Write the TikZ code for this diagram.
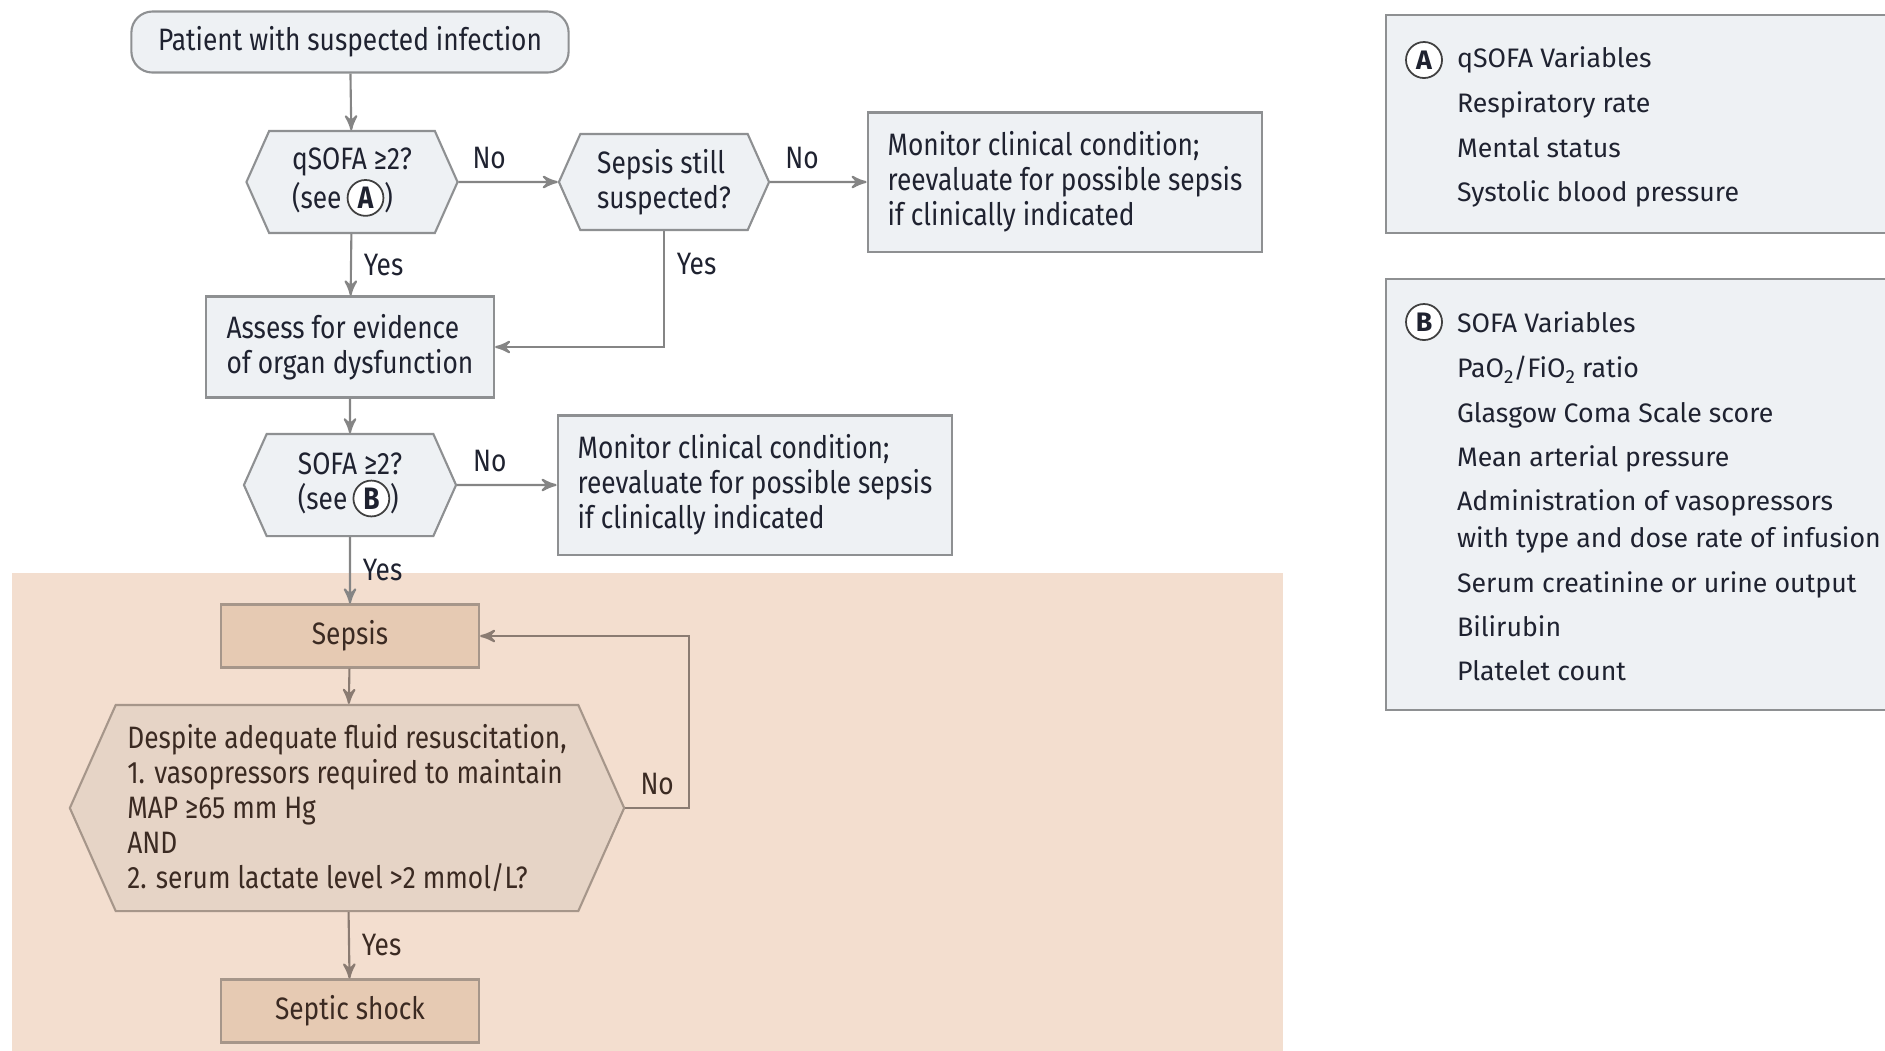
\documentclass[tikz,border=0pt]{standalone}
\usepackage{fontspec}
\setmainfont{Fira Sans}
\newfontfamily\narrowfont[FakeStretch=0.85]{Fira Sans}
\usepackage{tikz}
\usetikzlibrary{arrows,shapes.symbols}

\definecolor{boxfill}{HTML}{EEF1F4}
\definecolor{boxline}{HTML}{8E9092}
\definecolor{arrowgray}{HTML}{858585}
\definecolor{peach}{HTML}{F3DECF}
\definecolor{tanfill}{HTML}{E6CAB3}
\definecolor{hexfill}{HTML}{E6D4C6}
\definecolor{tanline}{HTML}{A6968A}
\definecolor{tanarrow}{HTML}{8A7B72}
\definecolor{inkblue}{HTML}{1F2230}
\definecolor{inkbrown}{HTML}{3B2A22}

\newcommand{\mainsz}{\narrowfont\fontsize{8.8}{9.9}\selectfont}
\newcommand{\panelsz}{\fontsize{7.6}{9.9}\selectfont}
\newcommand{\lowtwo}{\raisebox{-0.45ex}{\fontsize{5.4}{5}\selectfont 2}}
\newcommand{\seemark}[1]{\tikz[baseline=(m.base)]\node[circle,draw=black!75,fill=white,line width=0.5pt,inner sep=0pt,minimum size=10.2pt,font=\bfseries](m){#1};}

\begin{document}
\begin{tikzpicture}[x=0.01cm,y=-0.01cm,>=stealth',line width=0.6pt,
    proc/.style={draw=boxline,fill=boxfill,text=inkblue,font=\mainsz,align=left,inner xsep=0.2cm},
    start/.style={proc,rounded corners=6pt,align=center,minimum width=4.37cm,minimum height=0.61cm},
    decide/.style={signal,signal to=east and west,signal pointer angle=132,draw=boxline,fill=boxfill,
      text=inkblue,font=\mainsz,align=left,inner sep=0pt},
    monitor/.style={proc,inner xsep=0.2cm,minimum width=3.92cm,minimum height=1.39cm},
    outcome/.style={draw=tanline,fill=tanfill,text=inkbrown,font=\mainsz,minimum width=2.58cm,minimum height=0.63cm},
    shockq/.style={decide,draw=tanline,fill=hexfill,text=inkbrown},
    panel/.style={draw=boxline,fill=boxfill,anchor=north west,minimum width=5.3cm},
    circmark/.style={circle,draw=black!75,fill=white,line width=0.5pt,inner sep=0pt,minimum size=0.36cm,font=\bfseries\panelsz,text=inkblue},
    item/.style={anchor=base west,inner sep=0pt,font=\panelsz,text=inkblue},
    lab/.style={font=\mainsz,text=inkblue},
    tanlab/.style={font=\mainsz,text=inkbrown}]
  \useasboundingbox (0,0) rectangle (1885,1050);
  \fill[peach] (12,573) rectangle (1283,1060);

  \node[start]                 (patient) at (350,42)   {Patient with suspected infection};
  \node[decide,minimum width=2.11cm,minimum height=1.02cm] (qsofa) at (352,182) {qSOFA ≥2?\\(see\,\seemark{A})};
  \node[decide,minimum width=2.1cm,minimum height=0.96cm]  (still) at (664,182) {Sepsis still\\suspected?};
  \node[monitor]               (mon1)    at (1065,182) {Monitor clinical condition;\\reevaluate for possible sepsis\\if clinically indicated};
  \node[proc,minimum width=2.88cm,minimum height=1.01cm] (assess) at (350,347) {Assess for evidence\\of organ dysfunction};
  \node[decide,minimum width=2.12cm,minimum height=1.02cm] (sofa) at (350,485) {SOFA ≥2?\\(see\,\seemark{B})};
  \node[monitor]               (mon2)    at (755,485)  {Monitor clinical condition;\\reevaluate for possible sepsis\\if clinically indicated};
  \node[outcome]               (sepsis)  at (350,636)  {Sepsis};
  \node[shockq,minimum width=5.54cm,minimum height=2.06cm] (shock) at (347,808)
    {Despite adequate fluid resuscitation,\\1. vasopressors required to maintain\\MAP ≥65 mm Hg\\AND\\2. serum lactate level >2 mmol/L?};
  \node[outcome]               (septic)  at (350,1011) {Septic shock};
  \coordinate (loopx) at (689,0);

  \path[->,arrowgray]
    (patient) edge (qsofa)
    (qsofa) edge node[lab,above,pos=0.31] {No} (still)
    (still) edge node[lab,above,pos=0.33] {No} (mon1)
    (qsofa) edge node[lab,right] {Yes} (assess)
    (assess) edge (sofa)
    (sofa) edge node[lab,above,pos=0.33] {No} (mon2)
    (sofa) edge node[lab,right] {Yes} (sepsis);
  \draw[->,arrowgray] (still) |- node[lab,right,pos=0.14] {Yes} (assess);
  \path[->,tanarrow]
    (sepsis) edge (shock)
    (shock) edge node[tanlab,right] {Yes} (septic);
  \draw[->,tanarrow] (shock.east) -- node[tanlab,above] {No} (shock.east -| loopx) |- (sepsis);

  % variable panels
  \node[panel,minimum height=2.18cm] (qpanel) at (1385,14) {};
  \node[circmark] (markA) at (1424,60) {A};
  \foreach \yy/\txt in {67/{qSOFA Variables},112/{Respiratory rate},157/{Mental status},201/{Systolic blood pressure}}
    \node[item] at (1456,\yy) {\txt};

  \node[panel,minimum height=4.31cm] (spanel) at (1385,278) {};
  \node[circmark] (markB) at (1424,322) {B};
  \foreach \yy/\txt in {332/{SOFA Variables},377/{PaO\lowtwo/FiO\lowtwo{} ratio},422/{Glasgow Coma Scale score},
      466/{Mean arterial pressure},510/{Administration of vasopressors},547/{with type and dose rate of infusion},
      592/{Serum creatinine or urine output},636/{Bilirubin},680/{Platelet count}}
    \node[item] at (1456,\yy) {\txt};
\end{tikzpicture}
\end{document}
